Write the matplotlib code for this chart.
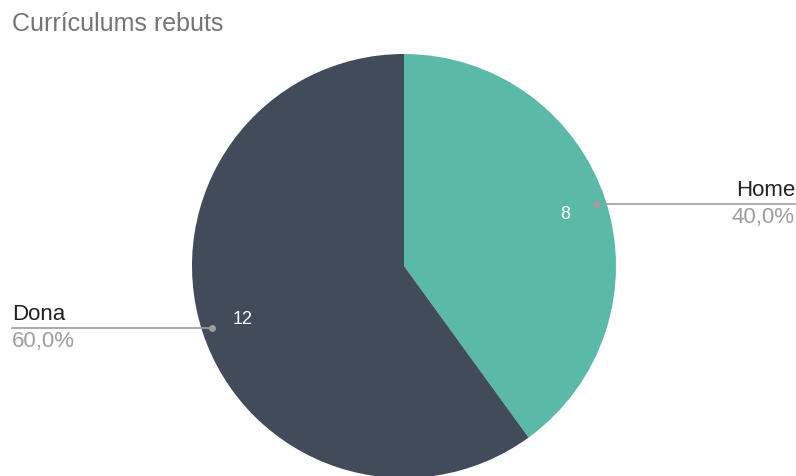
import numpy as np
import matplotlib
matplotlib.use("Agg")
import matplotlib.pyplot as plt

# ── Data ───────────────────────────────────────────────────────────────────────
labels = ["Home", "Dona"]
values = [8, 12]
colors = ["#5BBAA7", "#424B5A"]
title = "Currículums rebuts"

plt.rcParams["font.family"] = ["Liberation Sans", "DejaVu Sans"]

W, H = 796, 477
fig = plt.figure(figsize=(W / 100, H / 100), dpi=100)

# pie axes placed in pixels: centre (404, 267), radius 212
cx, cy, r = 404, 267, 212
ax = fig.add_axes([(cx - r) / W, (H - cy - r) / H, 2 * r / W, 2 * r / H])

total = sum(values)
wedges, texts = ax.pie(values, colors=colors, startangle=90, counterclock=False,
                       radius=1, labels=[str(v) for v in values],
                       labeldistance=0.80,
                       textprops=dict(color="white", fontsize=13, ha="center", va="center"))
for t in texts:
    t.set_ha("center")

ax.set_xlim(-1, 1)
ax.set_ylim(-1, 1)
ax.set_aspect("equal")
ax.axis("off")

# leader lines + outside labels
for w, lab, v in zip(wedges, labels, values):
    mid = np.deg2rad((w.theta1 + w.theta2) / 2)
    dx, dy = 0.95 * np.cos(mid), 0.95 * np.sin(mid)
    px = cx + dx * r
    py = H - (cy - dy * r)
    fx, fy = px / W, py / H
    pct = f"{100 * v / total:.1f}%".replace(".", ",")
    if dx > 0:
        x_end = 795 / W
        ha = "right"
    else:
        x_end = 12 / W
        ha = "left"
    fig.add_artist(plt.Line2D([fx, x_end], [fy, fy], color="#9E9E9E", lw=1.2))
    fig.add_artist(plt.Line2D([fx], [fy], marker="o", markersize=4,
                              color="#9E9E9E", lw=0))
    fig.text(x_end, fy + 4 / H, lab, ha=ha, va="bottom", fontsize=16, color="#212121")
    fig.text(x_end, fy - 2 / H, pct, ha=ha, va="top", fontsize=16, color="#9E9E9E")

fig.text(12 / W, 1 - 12 / H, title, ha="left", va="top", fontsize=18, color="#757575")

fig.savefig("out.png", dpi=100, facecolor="white")
